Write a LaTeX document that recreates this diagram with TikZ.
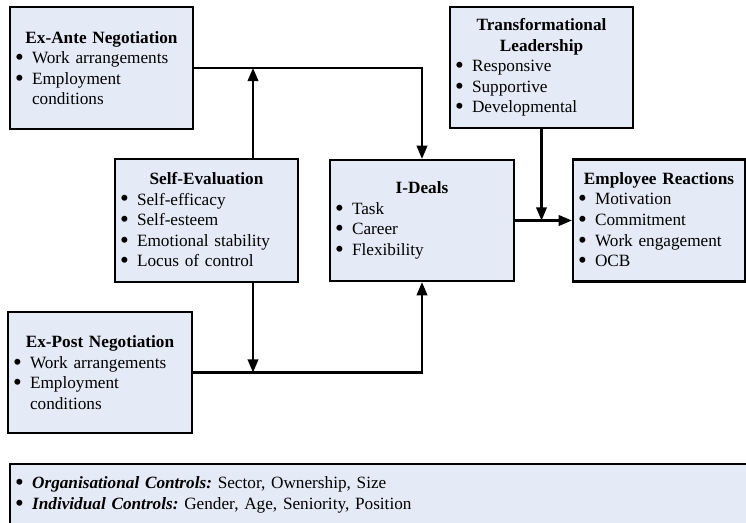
\documentclass[tikz,border=0pt]{standalone}
\usepackage{fontspec}
\setmainfont{Liberation Serif}
\usepackage{tikz}
\usetikzlibrary{arrows.meta, calc, positioning}

\definecolor{boxfill}{RGB}{228,235,246}
\newcommand{\hd}[1]{{\centering\textbf{#1}\par}}
\newcommand{\blt}{\makebox[0.34cm][l]{\raisebox{-0.25ex}{\scalebox{1.45}{\textbullet}}}}
\newcommand{\itm}[1]{\par\noindent\blt#1}
\newcommand{\cnt}[1]{\par\noindent\hspace*{0.34cm}#1}

\begin{document}
\begin{tikzpicture}[x=0.02cm, y=-0.02cm,
        box/.style={draw=black, fill=boxfill, line width=1.3pt, inner xsep=0.1cm, inner ysep=0pt,
            align=left, font=\fontsize{9.8pt}{11.7pt}\selectfont},
        arr/.style={line width=1.2pt, -{Triangle[length=7.5pt, width=6pt]}}]
        \useasboundingbox (0, 0) rectangle (746, 523);

        % Boxes
        \node[box, minimum width=3.66cm, minimum height=2.44cm, text width=3.46cm] (exante) at (101.5, 68)
            {\hd{Ex-Ante Negotiation}\itm{Work arrangements}\itm{Employment}\cnt{conditions}};
        \node[box, minimum width=3.66cm, minimum height=2.46cm, text width=3.46cm] (selfev) at (206.5, 220.5)
            {\hd{Self-Evaluation}\itm{Self-efficacy}\itm{Self-esteem}\itm{Emotional stability}\itm{Locus of control}};
        \node[box, minimum width=3.68cm, minimum height=2.42cm, text width=3.48cm] (ideals) at (422, 220.5)
            {\hd{I-Deals}\itm{Task}\itm{Career}\itm{Flexibility}};
        \node[box, minimum width=3.66cm, minimum height=2.42cm, text width=3.46cm] (transf) at (541.5, 67.5)
            {\hd{Transformational}\hd{Leadership}\itm{Responsive}\itm{Supportive}\itm{Developmental}};
        \node[box, minimum width=3.44cm, minimum height=2.44cm, text width=3.24cm] (reac) at (659, 220.5)
            {\hd{Employee Reactions}\itm{Motivation}\itm{Commitment}\itm{Work engagement}\itm{OCB}};
        \node[box, minimum width=3.68cm, minimum height=2.42cm, text width=3.48cm] (expost) at (100, 372.5)
            {\hd{Ex-Post Negotiation}\itm{Work arrangements}\itm{Employment}\cnt{conditions}};
        \node[box, anchor=north west, minimum width=15.4cm, minimum height=1.22cm, text width=15.2cm] (controls) at (9, 463)
            {\blt\textbf{\textit{Organisational Controls:}}~Sector, Ownership, Size\itm{\textbf{\textit{Individual Controls:}}~Gender, Age, Seniority, Position}};

        % Joins
        \coordinate (seup) at (253, 68);
        \coordinate (sedown) at (253, 372.5);
        \coordinate (tlend) at (transf.south |- ideals.east);

        % Arrows
        \draw[arr] (exante.east) -| (ideals.north);
        \draw[arr] (selfev.north -| seup) -- (seup);
        \draw[arr] (selfev.south -| sedown) -- (sedown);
        \draw[arr] (expost.east) -| (ideals.south);
        \draw[arr] (ideals.east) -- (reac.west);
        \draw[arr] (transf.south) -- (tlend);
    \end{tikzpicture}
\end{document}
